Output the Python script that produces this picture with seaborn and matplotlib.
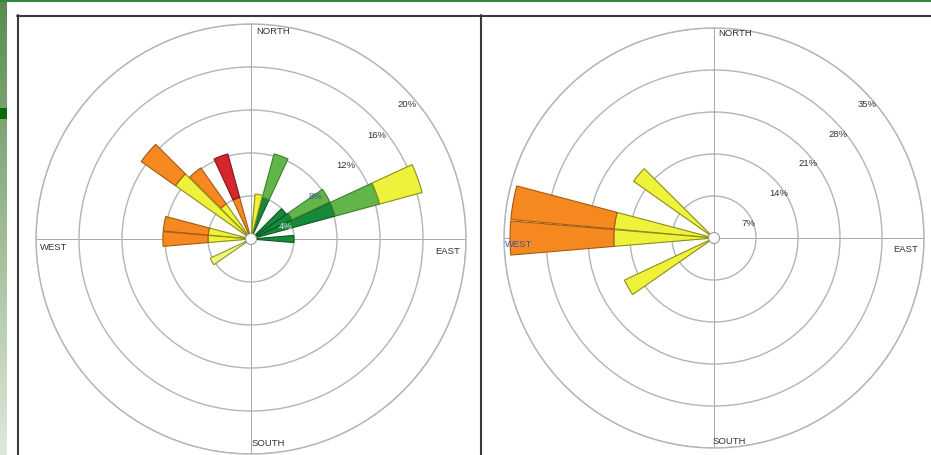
import numpy as np
import pandas as pd
import matplotlib
matplotlib.use("Agg")
import matplotlib.pyplot as plt
from matplotlib.patches import Rectangle, Circle
from matplotlib.lines import Line2D
from matplotlib.colors import LinearSegmentedColormap
import seaborn as sns

# --- data: wind direction (compass degrees), class of each stacked segment, % frequency
left_dir = [90, 70, 70, 70, 60, 60, 50, 20, 20, 10, 340, 340, 320, 320, 310, 310, 280, 280, 270, 270, 240]
left_cls = ["dg", "dg", "lg", "y", "dg", "lg", "dg", "dg", "lg", "y", "o", "r", "y", "o", "y", "o", "y", "o", "y", "o", "ly"]
left_pct = [4.0, 8.1, 4.3, 4.1, 4.2, 3.9, 4.0, 4.0, 4.2, 4.2, 4.0, 4.2, 4.0, 4.1, 8.6, 3.9, 4.0, 4.2, 4.0, 4.2, 4.2]

right_dir = [280, 280, 270, 270, 310, 240]
right_cls = ["y", "o", "y", "o", "y", "y"]
right_pct = [16.7, 17.3, 16.7, 17.3, 16.4, 16.5]

left_rings = [4, 8, 12, 16, 20]
right_rings = [7, 14, 21, 28, 35]
cardinals = ["NORTH", "EAST", "SOUTH", "WEST"]

# --- styles
FILL = {"dg": "#17893a", "lg": "#62b548", "y": "#eef23a", "ly": "#f2f27e",
        "o": "#f5891f", "r": "#d4262c"}
EDGE = {"dg": "#0d5a25", "lg": "#3d7f2c", "y": "#8c8c1c", "ly": "#7f9a2e",
        "o": "#a55a12", "r": "#7f1717"}
TXT = "#333333"
BLUE_TXT = "#4a52a0"
W, H = 931, 455


def polar_axes(fig, cx, cy, rad):
    ax = fig.add_axes([(cx - rad) / W, (H - cy - rad) / H, 2 * rad / W, 2 * rad / H],
                      projection="polar")
    ax.set_theta_zero_location("N")
    ax.set_theta_direction(-1)
    ax.set_facecolor("white")
    return ax


def draw_rose(ax, dirs, classes, pcts, rings, rad_px, pct_offset, card_offsets,
              ring_colors, card_colors):
    df = pd.DataFrame({"dir": dirs, "cls": classes, "pct": pcts})
    df["bottom"] = df.groupby("dir")["pct"].cumsum() - df["pct"]
    for row in df.itertuples():
        ax.bar(np.deg2rad(row.dir), row.pct, width=np.deg2rad(9.6), bottom=row.bottom,
               color=FILL[row.cls], edgecolor=EDGE[row.cls], linewidth=0.8, zorder=3)

    ax.set_ylim(0, rings[-1])
    ax.set_yticks(rings)
    ax.set_yticklabels([])
    ax.set_xticks(np.deg2rad([0, 90, 180, 270]))
    ax.set_xticklabels([])
    ax.yaxis.grid(True, color="#b4b4b4", linewidth=1.0)
    ax.xaxis.grid(True, color="#a8a8a8", linewidth=0.7)
    ax.spines["polar"].set_color("#b4b4b4")
    ax.spines["polar"].set_linewidth(1.0)

    # ring labels, placed along the NE diagonal
    for r, col in zip(rings, ring_colors):
        ax.annotate(f"{r}%", xy=(np.deg2rad(45), r), xytext=pct_offset,
                    textcoords="offset pixels", ha="center", va="center",
                    fontsize=6.8, color=col, zorder=4)

    # compass names inside the outer ring
    rmax = rings[-1]
    for name, ang, (dx, dy, ha), col in zip(cardinals, [0, 90, 180, 270], card_offsets,
                                             card_colors):
        ax.annotate(name, xy=(np.deg2rad(ang), rmax), xytext=(dx, dy),
                    textcoords="offset pixels", ha=ha, va="center",
                    fontsize=6.8, color=col, zorder=4)

    # calm circle at the centre
    ax.add_patch(Circle((0.5, 0.5), 5.5 / (2 * rad_px), transform=ax.transAxes,
                        facecolor="white", edgecolor="#9a9a9a", linewidth=0.8, zorder=5))


def main():
    sns.set_theme(style="white")
    plt.rcParams["font.family"] = ["Liberation Sans", "DejaVu Sans"]

    fig = plt.figure(figsize=(W / 100, H / 100), dpi=100)
    fig.patch.set_facecolor("white")

    # slide decoration: green top rule, gradient side strip, dark marker
    fig.patches.append(Rectangle((0, 1 - 2 / H), 1, 2 / H, transform=fig.transFigure,
                                 facecolor="#2e8a36", edgecolor="none"))
    strip = fig.add_axes([0, 0, 7 / W, (H - 2) / H])
    cmap = LinearSegmentedColormap.from_list("strip", ["#5a8c52", "#9dbb94", "#dfe8da"])
    strip.imshow(np.linspace(0, 1, 100).reshape(-1, 1), aspect="auto", cmap=cmap)
    strip.axis("off")
    fig.patches.append(Rectangle((0, (H - 119) / H), 7 / W, 11 / H, transform=fig.transFigure,
                                 facecolor="#0a6a0a", edgecolor="none", zorder=5))

    # panel frames
    for xs, ys in [([17 / W, 1], [1 - 15.5 / H] * 2),
                   ([17.5 / W] * 2, [0, 1 - 15 / H]),
                   ([481 / W] * 2, [0, 1 - 15 / H])]:
        fig.lines.append(Line2D(xs, ys, transform=fig.transFigure, color="#3a3a3a", linewidth=1.5))

    ax_left = polar_axes(fig, 251, 239, 215)
    draw_rose(ax_left, left_dir, left_cls, left_pct, left_rings, 215, (4, -18),
              [(5, -8, "left"), (-6, -12, "right"), (1, 10, "left"), (4, -8, "left")],
              ["#e4e4e4", BLUE_TXT, TXT, TXT, TXT], [TXT] * 4)

    ax_right = polar_axes(fig, 714, 238, 210)
    draw_rose(ax_right, right_dir, right_cls, right_pct, right_rings, 210, (5, -15),
              [(4, -5, "left"), (-6, -12, "right"), (-1, 7, "left"), (1, -6, "left")],
              [TXT] * 5, [TXT, TXT, TXT, BLUE_TXT])

    fig.savefig("out.png", dpi=100)
    plt.close(fig)


if __name__ == "__main__":
    main()
